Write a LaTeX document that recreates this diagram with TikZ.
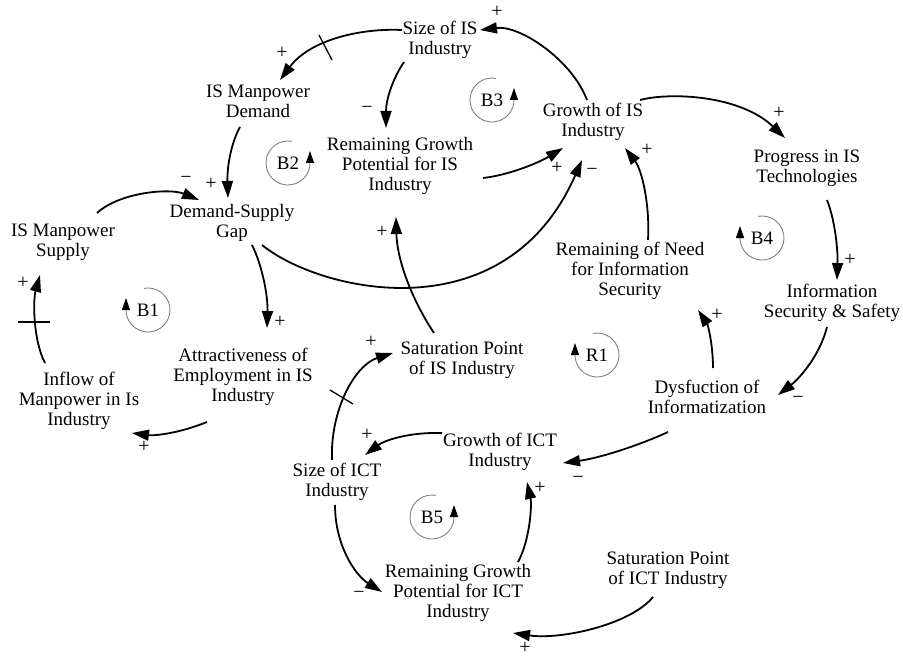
\documentclass[tikz,border=0pt]{standalone}
\usepackage{fontspec}
\setmainfont{Liberation Serif}
\usetikzlibrary{arrows.meta,calc}
\begin{document}
\begin{tikzpicture}[x=1pt,y=-1pt,
  lbl/.style={align=center, font=\fontsize{19}{20}\selectfont, inner sep=0pt},
  sgn/.style={font=\fontsize{20}{20}\selectfont, inner sep=0pt},
  loopt/.style={font=\fontsize{19}{20}\selectfont, inner sep=0pt},
  arr/.style={line width=1.8pt, -{Triangle[length=17pt,width=11pt]}},
  loopcw/.style={gray, line width=0.9pt, -{Triangle[length=12pt,width=8pt,fill=black,color=black]}},
  tickmark/.style={line width=1.3pt}]
\useasboundingbox (0,0) rectangle (903,658);
\fill[white] (0,0) rectangle (903,658);
% variables
\node[lbl] (sizeIS) at (440,40) {Size of IS\\Industry};
\node[lbl] (demand) at (258,101) {IS Manpower\\Demand};
\node[lbl] (remIS) at (400,166) {Remaining Growth\\Potential for IS\\Industry};
\node[lbl] (growthIS) at (593,122) {Growth of IS\\Industry};
\node[lbl] (progress) at (807,168) {Progress in IS\\Technologies};
\node[lbl] (gap) at (232,223) {Demand-Supply\\Gap};
\node[lbl] (supply) at (63,242) {IS Manpower\\Supply};
\node[lbl] (need) at (630,271) {Remaining of Need\\for Information\\Security};
\node[lbl] (infosec) at (832,303) {Information\\Security \& Safety};
\node[lbl] (attract) at (243,377) {Attractiveness of\\Employment in IS\\Industry};
\node[lbl] (inflow) at (79,401) {Inflow of\\Manpower in Is\\Industry};
\node[lbl] (satIS) at (462,360) {Saturation Point\\of IS Industry};
\node[lbl] (dysf) at (707,397) {Dysfuction of\\Informatization};
\node[lbl] (growthICT) at (500,452) {Growth of ICT\\Industry};
\node[lbl] (sizeICT) at (337,482) {Size of ICT\\Industry};
\node[lbl] (remICT) at (458,593) {Remaining Growth\\Potential for ICT\\Industry};
\node[lbl] (satICT) at (668,570) {Saturation Point\\of ICT Industry};
% loop markers
\node[loopt] (b1) at (148,310) {B1};
\node[loopt] (b2) at (288,163) {B2};
\node[loopt] (b3) at (492,100) {B3};
\node[loopt] (b4) at (762,238) {B4};
\node[loopt] (r1) at (597,355) {R1};
\node[loopt] (b5) at (432,517) {B5};
\draw[loopcw] ($(b1)+(100:22pt)$) arc[start angle=100,end angle=-180,radius=22pt] -- ++(0,-12);
\draw[loopcw] ($(b4)+(100:22pt)$) arc[start angle=100,end angle=-180,radius=22pt] -- ++(0,-12);
\draw[loopcw] ($(r1)+(100:22pt)$) arc[start angle=100,end angle=-180,radius=22pt] -- ++(0,-12);
\draw[loopcw] ($(b2)+(80:22pt)$) arc[start angle=80,end angle=360,radius=22pt] -- ++(0,-12);
\draw[loopcw] ($(b3)+(80:22pt)$) arc[start angle=80,end angle=360,radius=22pt] -- ++(0,-12);
\draw[loopcw] ($(b5)+(80:22pt)$) arc[start angle=80,end angle=360,radius=22pt] -- ++(0,-12);
% connectors
\draw[arr] ($(growthIS)+(-6,-22)$) .. controls (572,60) and (520,25) .. ($(sizeIS)+(40,-10)$);
\draw[arr] ($(sizeIS)+(-38,-10)$) .. controls (360,28) and (310,40) .. ($(demand)+(22,-21)$);
\draw[tickmark] (319,35) -- (332,60);
\draw[arr] ($(sizeIS)+(-36,22)$) .. controls (392,80) and (386,100) .. ($(remIS)+(-14,-38)$);
\draw[arr] ($(demand)+(-18,26)$) .. controls (230,145) and (227,170) .. ($(gap)+(-4,-25)$);
\draw[arr] ($(supply)+(34,-29)$) .. controls (120,192) and (170,188) .. ($(gap)+(-33,-23)$);
\draw[arr] ($(inflow)+(-34,-38)$) .. controls (33,340) and (33,300) .. ($(supply)+(-23,33)$);
\draw[tickmark] (18,322) -- (50,322);
\draw[arr] ($(attract)+(-36,45)$) .. controls (180,433) and (155,436) .. ($(inflow)+(53,32)$);
\draw[arr] ($(gap)+(20,22)$) .. controls (262,265) and (268,295) .. ($(attract)+(24,-49)$);
\draw[arr] ($(gap)+(30,22)$) .. controls (320,292) and (505,335) .. ($(growthIS)+(-11,38)$);
\draw[arr] ($(remIS)+(83,12)$) .. controls (510,175) and (540,162) .. ($(growthIS)+(-30,26)$);
\draw[arr] ($(satIS)+(-28,-27)$) .. controls (412,300) and (397,260) .. ($(remIS)+(-4,51)$);
\draw[arr] ($(need)+(18,-31)$) .. controls (650,205) and (642,170) .. ($(growthIS)+(32,26)$);
\draw[arr] ($(growthIS)+(47,-22)$) .. controls (670,92) and (740,95) .. ($(progress)+(-22,-30)$);
\draw[arr] ($(progress)+(20,32)$) .. controls (835,220) and (838,250) .. ($(infosec)+(5,-23)$);
\draw[arr] ($(infosec)+(-5,24)$) .. controls (820,355) and (800,378) .. ($(dysf)+(71,-2)$);
\draw[arr] ($(dysf)+(6,-29)$) .. controls (713,345) and (708,325) .. ($(need)+(68,39)$);
\draw[arr] ($(dysf)+(-39,35)$) .. controls (640,445) and (600,458) .. ($(growthICT)+(63,11)$);
\draw[arr] ($(growthICT)+(-58,-19)$) .. controls (410,432) and (385,440) .. ($(sizeICT)+(28,-27)$);
\draw[arr] ($(sizeICT)+(-5,-22)$) .. controls (330,410) and (355,365) .. ($(satIS)+(-69,-7)$);
\draw[tickmark] (330,390) -- (353,404);
\draw[arr] ($(sizeICT)+(-2,23)$) .. controls (335,545) and (355,575) .. ($(remICT)+(-76,-1)$);
\draw[arr] ($(remICT)+(60,-31)$) .. controls (530,540) and (532,505) .. ($(growthICT)+(27,30)$);
\draw[arr] ($(satICT)+(-15,27)$) .. controls (630,625) and (560,640) .. ($(remICT)+(55,40)$);
% polarity signs
\node[sgn] (s1) at (497,12) {+};
\node[sgn] (s2) at (282,53) {+};
\node[sgn] (s3) at (367,110) {−};
\node[sgn] (s4) at (211,184) {+};
\node[sgn] (s5) at (186,180) {−};
\node[sgn] (s6) at (23,283) {+};
\node[sgn] (s7) at (144,447) {+};
\node[sgn] (s8) at (280,322) {+};
\node[sgn] (s9) at (592,172) {−};
\node[sgn] (s10) at (557,168) {+};
\node[sgn] (s11) at (382,232) {+};
\node[sgn] (s12) at (647,150) {+};
\node[sgn] (s13) at (779,113) {+};
\node[sgn] (s14) at (850,260) {+};
\node[sgn] (s15) at (798,400) {−};
\node[sgn] (s16) at (717,315) {+};
\node[sgn] (s17) at (578,480) {−};
\node[sgn] (s18) at (367,435) {+};
\node[sgn] (s19) at (371,342) {+};
\node[sgn] (s20) at (359,595) {−};
\node[sgn] (s21) at (540,488) {+};
\node[sgn] (s22) at (525,648) {+};
\end{tikzpicture}
\end{document}
